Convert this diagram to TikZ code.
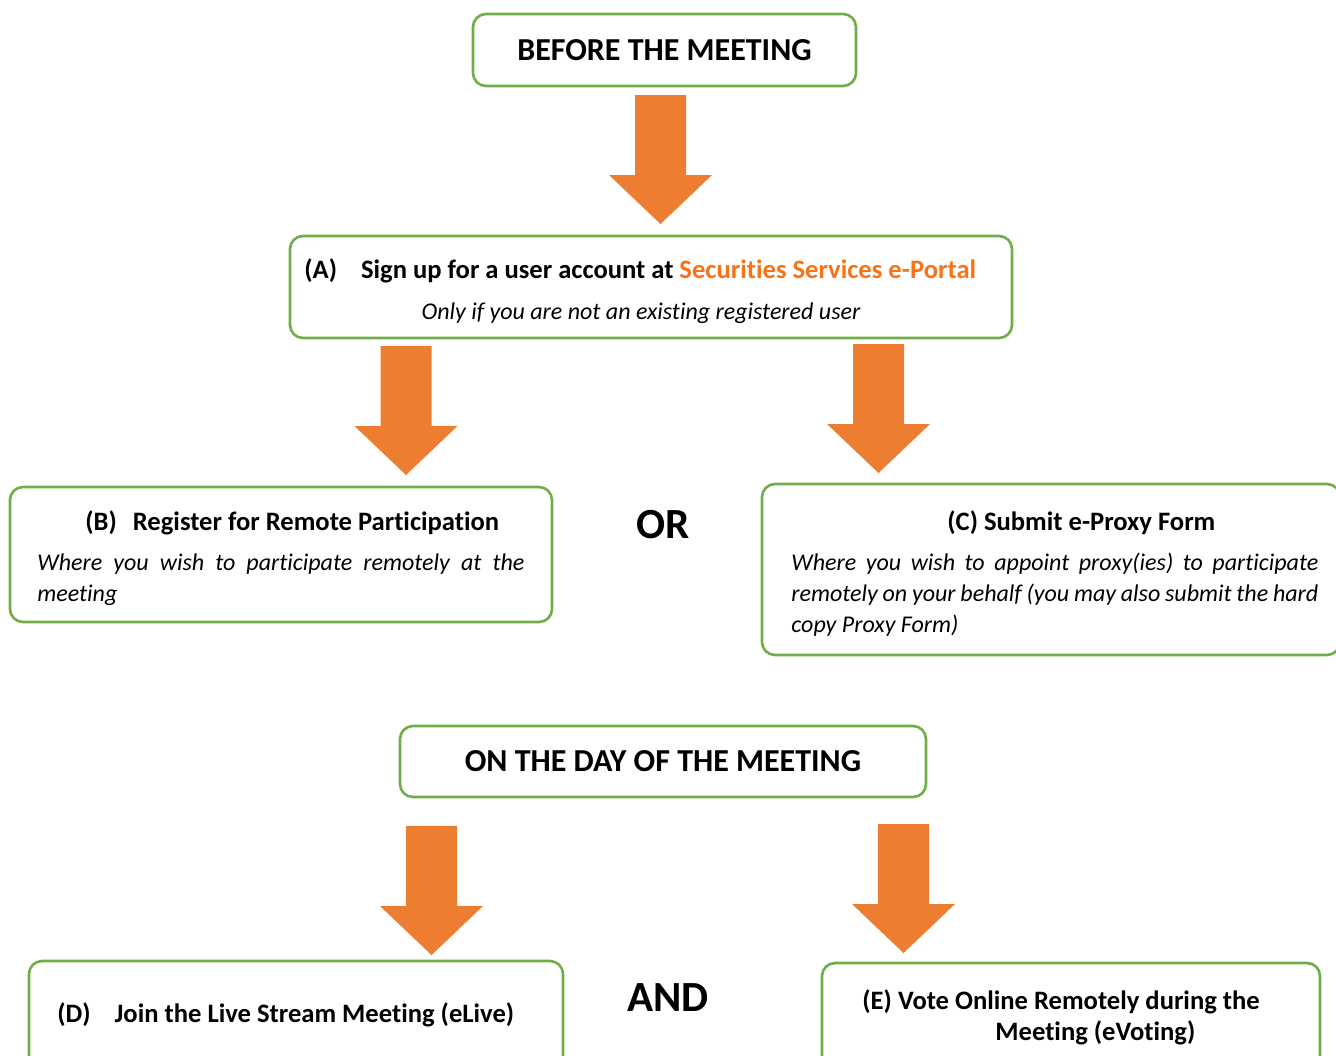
\documentclass[tikz,border=0pt]{standalone}
\usepackage{fontspec}
\setmainfont[Ligatures=NoCommon]{Carlito}
\usetikzlibrary{positioning,fit}

\definecolor{boxgreen}{HTML}{70AD47}
\definecolor{arroworange}{HTML}{ED7D31}
\definecolor{linkorange}{HTML}{F97316}

\tikzset{
  stagebox/.style={draw=boxgreen, line width=1.3pt, rounded corners=6.5pt, inner sep=0pt},
  heading/.style={font=\fontsize{16}{19}\selectfont\bfseries, inner sep=0pt},
  title/.style={font=\fontsize{13.3}{16}\selectfont\bfseries, inner sep=0pt},
  note/.style={font=\fontsize{12}{15.5}\selectfont\itshape, inner sep=0pt},
  joiner/.style={font=\fontsize{21.5}{25}\selectfont\bfseries, inner sep=0pt},
}

% block arrow: x centre, top y
\newcommand{\flowarrow}[2]{%
  \fill[arroworange] (#1-25.5,#2) -- (#1+25.5,#2) -- (#1+25.5,#2+80)
    -- (#1+51.5,#2+80) -- (#1,#2+129) -- (#1-51.5,#2+80)
    -- (#1-25.5,#2+80) -- cycle;
}

\begin{document}
\begin{tikzpicture}[x=0.5pt, y=-0.5pt]
  \useasboundingbox (0,0) rectangle (1336,1055);

  % ---- Before the meeting ----
  \node[stagebox, fit={(473,14) (856,86)}] (before) {};
  \node[heading] (beforetxt) at (before.center) {BEFORE THE MEETING};

  \flowarrow{660.5}{95}

  % ---- (A) Sign up ----
  \node[stagebox, fit={(290,236) (1012,338)}] (signup) {};
  \node[title, anchor=base west] (signuptxt) at (304,278)
    {(A)\hspace{0.9em}Sign up for a user account at \textcolor{linkorange}{Securities Services e-Portal}};
  \node[note, anchor=base] (signupnote) at (641,319)
    {Only if you are not an existing registered user};

  \flowarrow{406}{346}
  \flowarrow{878.5}{344}

  % ---- (B) Register ----
  \node[stagebox, fit={(10,487) (552,622)}] (register) {};
  \node[title, anchor=base west] (registertxt) at (85,530)
    {(B)\hspace{0.6em}Register for Remote Participation};
  \node[note, anchor=base west, text width=243.5pt, align=justify] (registernote) at (37,570)
    {Where you wish to participate remotely at the\linebreak meeting};

  \node[joiner] (ortxt) at (663,525) {OR};

  % ---- (C) e-Proxy ----
  \node[stagebox, fit={(762,484) (1340,655)}] (proxy) {};
  \node[title, anchor=base west] (proxytxt) at (947,530) {(C) Submit e-Proxy Form};
  \node[note, anchor=base west, text width=263.5pt, align=justify] (proxynote) at (791,570)
    {Where you wish to appoint proxy(ies) to participate\linebreak remotely on your behalf (you may also submit the hard\linebreak copy Proxy Form)};

  % ---- On the day ----
  \node[stagebox, fit={(400,726) (926,797)}] (onday) {};
  \node[heading] (ondaytxt) at (onday.center) {ON THE DAY OF THE MEETING};

  \flowarrow{431.5}{826}
  \flowarrow{903.5}{824}

  % ---- (D) eLive ----
  \node[stagebox, fit={(29,961) (563,1080)}] (elive) {};
  \node[title, anchor=base west] (elivetxt) at (57,1022)
    {(D)\hspace{0.9em}Join the Live Stream Meeting (eLive)};

  \node[joiner] (andtxt) at (668,998) {AND};

  % ---- (E) eVoting ----
  \node[stagebox, fit={(822,963) (1320,1080)}] (evote) {};
  \node[title, anchor=base west, align=left] (evotetxt) at (862,1040)
    {(E) Vote Online Remotely during the\\[-0.5pt]\hspace*{66.5pt}Meeting (eVoting)};

\end{tikzpicture}
\end{document}
